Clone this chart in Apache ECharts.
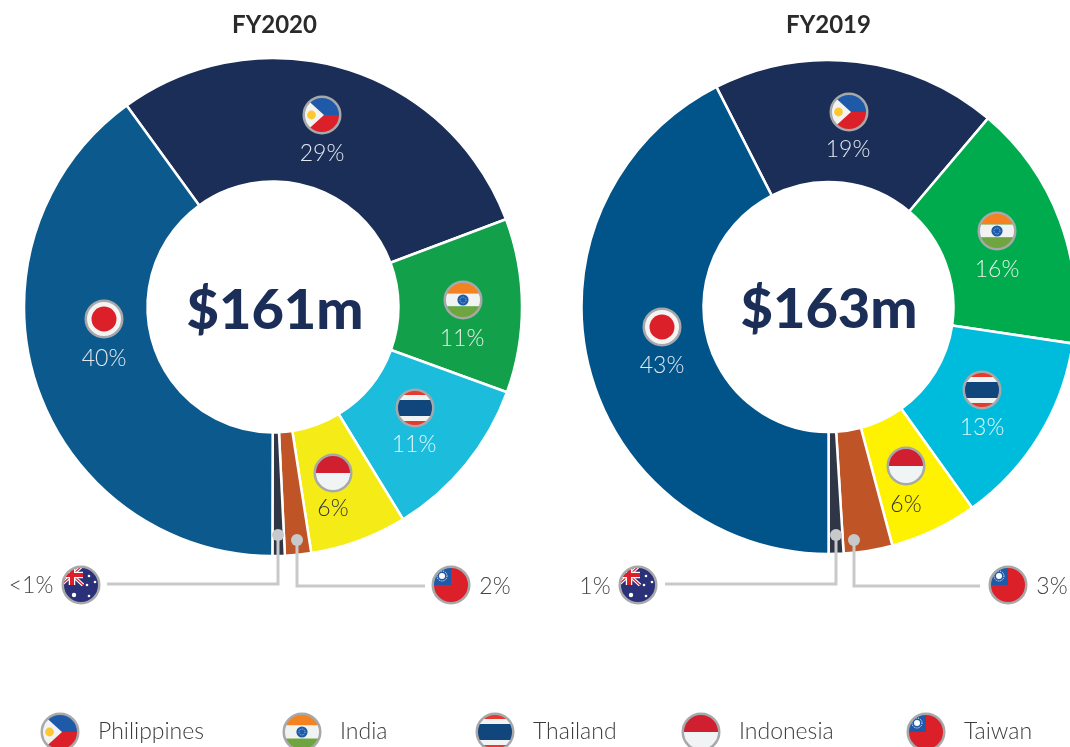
<!DOCTYPE html>
<html>
<head>
<meta charset="utf-8">
<title>FY2020 vs FY2019</title>
<style>
  html, body { margin: 0; padding: 0; background: #fff; overflow: hidden; }
  #main { width: 1070px; height: 747px; }
</style>
<script src="https://cdn.jsdelivr.net/npm/echarts@6/dist/echarts.min.js"></script>
</head>
<body>
<div id="main"></div>
<script>
// data
const countries = ['Philippines', 'India', 'Thailand', 'Indonesia', 'Taiwan', 'Australia', 'Japan'];
const legendCountries = ['Philippines', 'India', 'Thailand', 'Indonesia', 'Taiwan'];
const values2020 = [29.3, 11.3, 10.7, 6.3, 1.7, 0.8, 40];
const values2019 = [18.67, 16.19, 12.75, 5.72, 3.19, 0.97, 42.5];
const labels2020 = ['29%', '11%', '11%', '6%', '2%', '<1%', '40%'];
const labels2019 = ['19%', '16%', '13%', '6%', '3%', '1%', '43%'];
const titles = ['FY2020', 'FY2019'];
const totals = ['$161m', '$163m'];

// styles
const colors2020 = ['#1b2e58', '#12a04a', '#1bbcdc', '#f5ec17', '#bf5527', '#2f3747', '#0c5a8d'];
const colors2019 = ['#1b2e58', '#00ab4e', '#00bcdc', '#fff200', '#bf5527', '#2f3747', '#01548a'];
const labelColors = ['#e4e9f0', '#e4f2e8', '#e4f5f9', '#333333', '#444444', '#444444', '#e4e9f0'];

// layout, px
const flagPos2020 = [[322, 115], [463, 300], [415, 408], [333, 473], [451, 585], [81, 585], [104, 319]];
const flagPos2019 = [[849, 112], [997, 231], [982, 390], [906, 466], [1008, 585], [638, 585], [662, 327]];
const labelPos2020 = [[322, 154], [462, 339], [414, 445], [333, 509], [495, 587], [31, 586], [104, 359]];
const labelPos2019 = [[848, 150], [997, 270], [982, 428], [906, 505], [1052, 587], [595, 587], [662, 366]];
const legendLeft = [40, 282, 475, 681, 906];

// flags: drawn as small svg images, 40x40 with a grey ring
const flagArt = {
  Philippines: '<rect width="40" height="20" fill="#1f5aa8"/><rect y="20" width="40" height="20" fill="#dc2029"/>' +
    '<path d="M0 0L22 20L0 40Z" fill="#f2f4f4"/><circle cx="9.5" cy="20" r="4.4" fill="#fdc82f"/>',
  India: '<rect width="40" height="13.5" fill="#f58220"/><rect y="13.5" width="40" height="13" fill="#f1f3f3"/>' +
    '<rect y="26.5" width="40" height="13.5" fill="#6ea53e"/><circle cx="20" cy="20" r="5.6" fill="#1f5aa8"/>' +
    '<circle cx="20" cy="20" r="3" fill="none" stroke="#9fc0e8" stroke-width="1" stroke-dasharray="1 1"/>',
  Thailand: '<rect width="40" height="40" fill="#e8392e"/><rect y="7" width="40" height="26" fill="#f2f4f4"/>' +
    '<rect y="12" width="40" height="16" fill="#10467c"/>',
  Indonesia: '<rect width="40" height="20" fill="#d02030"/><rect y="20" width="40" height="20" fill="#f1f4f5"/>',
  Taiwan: '<rect width="40" height="40" fill="#dc2029"/><rect width="20" height="20" fill="#1f5aa8"/>' +
    '<circle cx="11" cy="11" r="3" fill="#fff"/><circle cx="11" cy="11" r="5" fill="none" stroke="#fff" stroke-width="1" stroke-dasharray="1 1"/>',
  Australia: '<rect width="40" height="40" fill="#2a3178"/><rect width="22" height="20" fill="#2a3178"/>' +
    '<path d="M0 0L22 20M22 0L0 20" stroke="#fff" stroke-width="3.5"/><path d="M0 0L22 20M22 0L0 20" stroke="#dc2029" stroke-width="1.2"/>' +
    '<path d="M11 0V20M0 10H22" stroke="#fff" stroke-width="6.5"/><path d="M11 0V20M0 10H22" stroke="#dc2029" stroke-width="4"/>' +
    '<circle cx="13" cy="30" r="2.2" fill="#fff"/><circle cx="28" cy="11" r="1.3" fill="#fff"/><circle cx="34" cy="17" r="1.3" fill="#fff"/>' +
    '<circle cx="26" cy="20" r="1.3" fill="#fff"/><circle cx="28" cy="31" r="1.3" fill="#fff"/>',
  Japan: '<rect width="40" height="40" fill="#f4f4f4"/><circle cx="20" cy="20" r="12.5" fill="#dc2029"/>'
};

function flagUrl(name) {
  const svg = '<svg xmlns="http://www.w3.org/2000/svg" width="80" height="80" viewBox="0 0 40 40">' +
    '<defs><clipPath id="c"><circle cx="20" cy="20" r="18.5"/></clipPath></defs>' +
    '<g clip-path="url(#c)">' + flagArt[name] + '</g>' +
    '<circle cx="20" cy="20" r="18.25" fill="none" stroke="#a7a8aa" stroke-width="2.5"/></svg>';
  return 'data:image/svg+xml;charset=utf-8,' + encodeURIComponent(svg);
}

function flagImages(positions) {
  return countries.map(function (name, i) {
    return {
      type: 'image',
      z: 20,
      style: { image: flagUrl(name), x: positions[i][0] - 20, y: positions[i][1] - 20, width: 40, height: 40 }
    };
  });
}

// grey leader lines from the two thin slices out to their flags
function leader(dot, bendY, endX) {
  return [
    { type: 'polyline', z: 15, shape: { points: [dot, [dot[0], bendY], [endX, bendY]] },
      style: { stroke: '#c8c9cb', lineWidth: 3, fill: null } },
    { type: 'circle', z: 16, shape: { cx: dot[0], cy: dot[1], r: 6 }, style: { fill: '#c8c9cb' } }
  ];
}

function donut(values, labels, colors, labelPos, center, radius, startAngle) {
  return {
    type: 'pie',
    center: center,
    radius: radius,
    startAngle: startAngle,
    clockwise: true,
    silent: true,
    avoidLabelOverlap: false,
    itemStyle: { borderColor: '#fff', borderWidth: 2.5 },
    label: {
      show: true,
      position: 'inside',
      fontFamily: 'Lato',
      fontWeight: 300,
      fontSize: 23,
      formatter: function (p) { return labels[p.dataIndex]; }
    },
    labelLine: { show: false },
    labelLayout: function (p) {
      return { x: labelPos[p.dataIndex][0], y: labelPos[p.dataIndex][1], align: 'center', verticalAlign: 'middle' };
    },
    data: countries.map(function (name, i) {
      return {
        name: name,
        value: values[i],
        itemStyle: { color: colors[i] },
        label: { color: labelColors[i] }
      };
    })
  };
}

function titleItem(text, x, y, size, weight, color) {
  return {
    text: text, left: x, top: y, padding: 0, textAlign: 'center',
    textStyle: { fontFamily: 'Lato', fontWeight: weight, fontSize: size, color: color }
  };
}

const myChart = echarts.init(document.getElementById('main'), null, { renderer: 'canvas' });

myChart.setOption({
  animation: false,
  title: [
    titleItem(titles[0], 274.5, 13, 24, 700, '#2a2a2a'),
    titleItem(titles[1], 828.5, 13, 24, 700, '#2a2a2a'),
    titleItem(totals[0], 275, 283, 56, 900, '#1b2e58'),
    titleItem(totals[1], 829, 282, 56, 900, '#1b2e58')
  ],
  legend: legendCountries.map(function (name, i) {
    return {
      left: legendLeft[i],
      top: 712,
      padding: 0,
      itemWidth: 40,
      itemHeight: 40,
      selectedMode: false,
      textStyle: { fontFamily: 'Lato', fontWeight: 300, fontSize: 23, color: '#3c3c3c', padding: [0, 0, 0, 13] },
      data: [{ name: name, icon: 'image://' + flagUrl(name) }]
    };
  }),
  graphic: [].concat(
    flagImages(flagPos2020),
    flagImages(flagPos2019),
    leader([278, 535], 584, 107),
    leader([297, 540], 586, 425),
    leader([836, 535], 584, 665),
    leader([854, 540], 586, 980)
  ),
  series: [
    donut(values2020, labels2020, colors2020, labelPos2020, [273, 307], [125.5, 249], 126),
    donut(values2019, labels2019, colors2019, labelPos2019, [828.5, 307], [125, 247], 117)
  ]
});
</script>
</body>
</html>
